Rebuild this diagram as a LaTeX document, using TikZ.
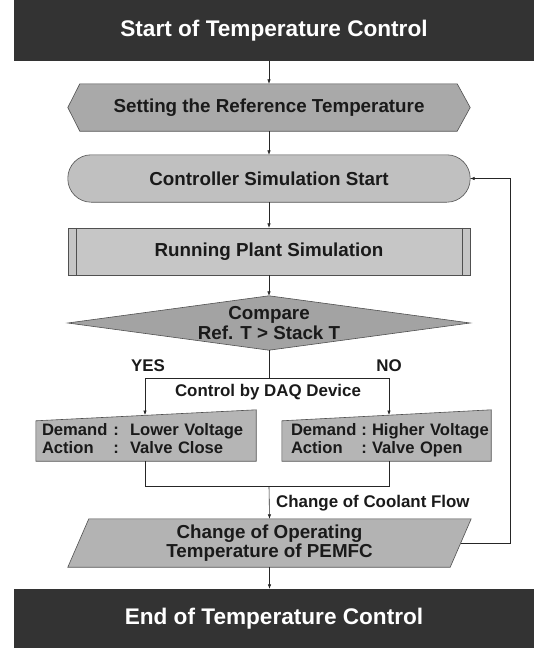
\documentclass[tikz,border=0pt]{standalone}
\usepackage{fontspec}
\setmainfont{Liberation Sans}
\usetikzlibrary{arrows.meta,backgrounds,calc}
\definecolor{termgray}{HTML}{333333}
\definecolor{hexfill}{HTML}{A9A9A9}
\definecolor{simfill}{HTML}{C0C0C0}
\definecolor{plantfill}{HTML}{C6C6C6}
\definecolor{cmpfill}{HTML}{A3A3A3}
\definecolor{boxfill}{HTML}{B5B5B5}
\definecolor{pemfill}{HTML}{B3B3B3}
\definecolor{edgegray}{HTML}{505050}
\definecolor{txt}{HTML}{1A1A1A}
\begin{document}
\begin{tikzpicture}[x=1pt,y=-1pt,
  term/.style={fill=termgray,draw=none,minimum width=520pt,inner sep=0,text=white,font=\fontsize{22.6}{26}\selectfont\bfseries},
  holder/.style={draw=none,inner sep=0,align=center,text=txt,font=\fontsize{18.8}{19.5}\selectfont\bfseries},
  shp/.style={draw=edgegray,line width=0.6pt},
  conn/.style={draw=black!85,line width=0.6pt},
  arr/.style={conn,-{Latex[length=4.5pt,width=3.5pt]}},
  lbl/.style={font=\fontsize{16.9}{18}\selectfont\bfseries,inner sep=0,text=txt},
  boxtext/.style={draw=none,inner sep=0,inner xsep=6pt,text=txt,anchor=center,align=left,font=\fontsize{16.6}{17}\selectfont\bfseries}
]
\useasboundingbox (0,0) rectangle (534,648);

% nodes
\node[term,minimum height=61pt] (start) at (274,30.5) {Start of Temperature Control};
\node[holder,minimum width=402pt,minimum height=47pt] (hex) at (269,107.5) {Setting the Reference Temperature};
\node[holder,minimum width=402pt,minimum height=47pt] (sim) at (269,178.5) {Controller Simulation Start};
\node[holder,minimum width=402pt,minimum height=47pt] (plant) at (269,251.5) {Running Plant Simulation};
\node[holder,minimum width=402pt,minimum height=54pt] (cmp) at (269,323) {Compare\\Ref. T > Stack T};
\node[boxtext,minimum width=220pt,minimum height=40pt,text width=208pt] (yesbox) at (146,441)
  {\begin{tabular}{@{}l@{\hspace{6pt}}l@{\hspace{11pt}}l@{}}Demand & : & Lower Voltage\\ Action & : & Valve Close\end{tabular}};
\node[boxtext,minimum width=209pt,minimum height=40pt,text width=191pt,inner xsep=9pt] (nobox) at (386.5,441)
  {\begin{tabular}{@{}l@{\hspace{5pt}}l@{\hspace{5pt}}l@{}}Demand & : & Higher Voltage\\ Action & : & Valve Open\end{tabular}};
\node[holder,minimum width=403pt,minimum height=48pt] (pem) at (269.5,543) {Change of Operating\\Temperature of PEMFC};
\node[term,minimum height=59pt] (stop) at (274,618.5) {End of Temperature Control};

\node[lbl] (yes) at (148,366) {YES};
\node[lbl] (no) at (389,366) {NO};
\node[lbl] (daq) at (268,392) {Control by DAQ Device};
\node[lbl,anchor=west] (flow) at (276,503) {Change of Coolant Flow};

% shapes behind text
\begin{scope}[on background layer]
\draw[shp,fill=hexfill] (hex.west) -- ([xshift=12pt]hex.north west) -- ([xshift=-13pt]hex.north east) -- (hex.east)
  -- ([xshift=-13pt]hex.south east) -- ([xshift=12pt]hex.south west) -- cycle;
\draw[shp,fill=simfill,rounded corners=23.4pt] (sim.north west) rectangle (sim.south east);
\draw[shp,fill=plantfill] (plant.north west) rectangle (plant.south east);
\draw[shp] ([xshift=8pt]plant.north west) -- ([xshift=8pt]plant.south west);
\draw[shp] ([xshift=-8pt]plant.north east) -- ([xshift=-8pt]plant.south east);
\draw[shp,fill=cmpfill] (cmp.west) -- (cmp.north) -- (cmp.east) -- (cmp.south) -- cycle;
\draw[shp,fill=boxfill] (yesbox.south west) -- (yesbox.north west) -- ([yshift=11pt]yesbox.north east) -- (yesbox.south east) -- cycle;
\draw[shp,fill=boxfill] (nobox.south west) -- (nobox.north west) -- ([yshift=11pt]nobox.north east) -- (nobox.south east) -- cycle;
\draw[shp,fill=pemfill] ([xshift=21pt]pem.north west) -- (pem.north east) -- ([xshift=-21pt]pem.south east) -- (pem.south west) -- cycle;
\end{scope}

% connector points
\coordinate (split) at (269,378);
\coordinate (yesin) at (145,415);
\coordinate (noin) at (389,415);
\coordinate (merge) at (269,486);
\coordinate (fbx) at (510,0);
\coordinate (pemright) at ($(pem.north east)!0.5!([xshift=-21pt]pem.south east)$);

% connectors
\draw[arr] (start.south -| hex.north) -- (hex.north);
\draw[arr] (hex.south) -- (sim.north);
\draw[arr] (sim.south) -- (plant.north);
\draw[arr] (plant.south) -- (cmp.north);
\draw[conn] (cmp.south) -- (split);
\draw[arr] (split) -| (yesin);
\draw[arr] (split) -| (noin);
\draw[conn] (yesin |- yesbox.south) |- (merge);
\draw[conn] (noin |- nobox.south) |- (merge);
\draw[arr] (merge) -- (pem.north);
\draw[arr] (pemright) -- (pemright -| fbx) |- (sim.east);
\draw[arr] (pem.south) -- (pem.south |- stop.north);
\end{tikzpicture}
\end{document}
